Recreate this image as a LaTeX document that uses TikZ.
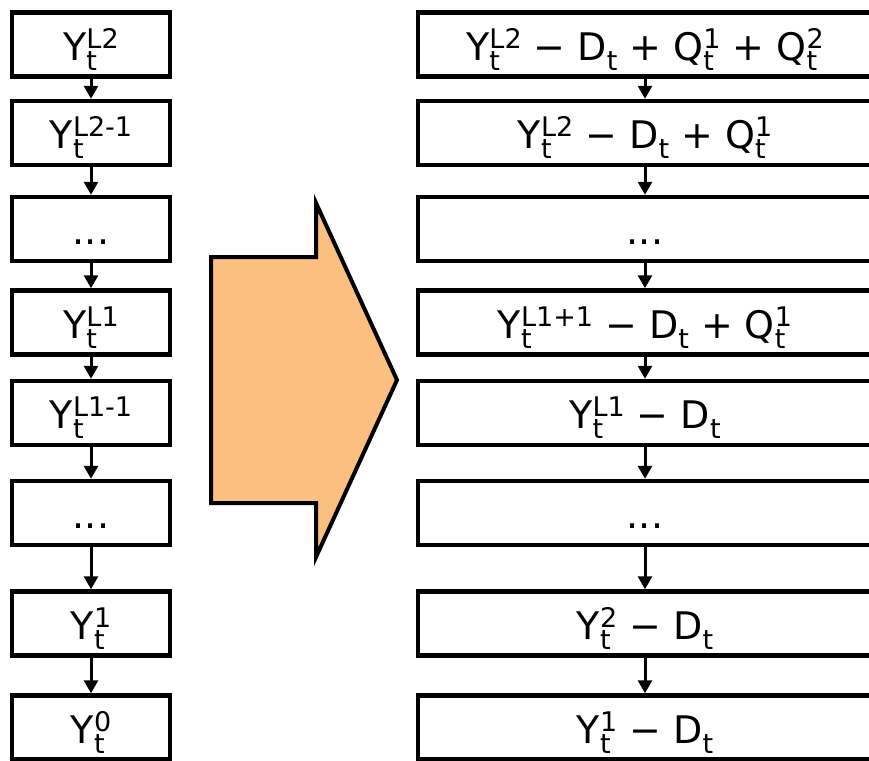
\documentclass[tikz,border=0pt]{standalone}
\usepackage{fontspec}
\setmainfont{DejaVu Sans}
\usepackage{xcolor}
\usepackage{tikz}
\usetikzlibrary{arrows.meta}

\definecolor{peach}{RGB}{251,191,128}
\newcommand{\scr}{\fontsize{27}{30}\selectfont}
% base letter with subscript t and a superscript stacked over it
\newcommand{\lvl}[2]{#1%
    \setbox0\hbox{\scr t}\setbox2\hbox{\scr #2}%
    \ifdim\wd0>\wd2 \wd2=\wd0\fi
    \rlap{\raisebox{-10pt}{\box0}}\raisebox{12pt}{\box2}}

\tikzset{
    lbox/.style={draw, line width=4.5pt, minimum width=158pt, minimum height=64pt,
                 inner sep=0pt, text height=32pt, text depth=1pt,
                 font=\fontsize{38}{44}\selectfont},
    rbox/.style={lbox, minimum width=454pt},
    down/.style={-{Triangle[width=14pt,length=13pt]}, line width=3pt}
}

\begin{document}
\begin{tikzpicture}[x=1pt,y=-1pt]
    \useasboundingbox (0,0) rectangle (869,760);

    % the block before
    \foreach \i/\y/\txt in {1/44.5/{\lvl{Y}{L2}}, 2/133/{\lvl{Y}{L2-1}},
                            3/229/{...}, 4/322.5/{\lvl{Y}{L1}},
                            5/413/{\lvl{Y}{L1-1}}, 6/513/{...},
                            7/623.5/{\lvl{Y}{1}}, 8/727.5/{\lvl{Y}{0}}}
        \node[lbox] (l\i) at (91,\y) {\txt};

    % the big arrow
    \draw[line width=4pt, fill=peach, line join=miter]
        (211,257) -- (316,257) -- (316,203) -- (397,380) -- (316,557)
        -- (316,503) -- (211,503) -- cycle;

    % the block after
    \foreach \i/\y/\txt in {1/44.5/{\lvl{Y}{L2} − \lvl{D}{} + \lvl{Q}{1} + \lvl{Q}{2}},
                            2/133/{\lvl{Y}{L2} − \lvl{D}{} + \lvl{Q}{1}},
                            3/229/{...},
                            4/322.5/{\lvl{Y}{L1+1} − \lvl{D}{} + \lvl{Q}{1}},
                            5/413/{\lvl{Y}{L1} − \lvl{D}{}},
                            6/513/{...},
                            7/623.5/{\lvl{Y}{2} − \lvl{D}{}},
                            8/727.5/{\lvl{Y}{1} − \lvl{D}{}}}
        \node[rbox] (r\i) at (645,\y) {\txt};

    \foreach \a/\b in {1/2, 2/3, 3/4, 4/5, 5/6, 6/7, 7/8} {
        \draw[down] (l\a) -- (l\b);
        \draw[down] (r\a) -- (r\b);
    }
\end{tikzpicture}
\end{document}
